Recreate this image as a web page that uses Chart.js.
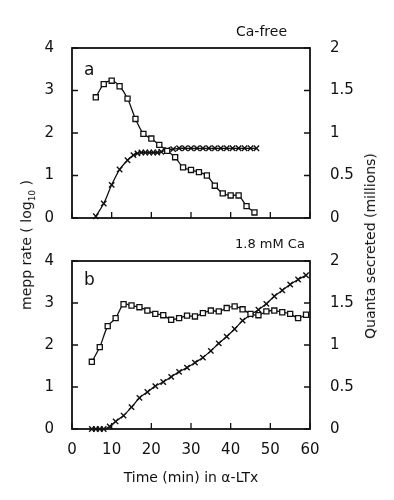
<!DOCTYPE html>
<html>
<head>
<meta charset="utf-8">
<script src="https://cdn.jsdelivr.net/npm/chart.js@4"></script>
<style>
  body { margin: 0; background: #fff; }
  #wrap { position: relative; width: 394px; height: 500px; font-family: "DejaVu Sans", sans-serif; color: #111; }
  canvas { position: absolute; left: 0; }
  .lbl { position: absolute; white-space: nowrap; line-height: 1; }
  .rot { transform: translate(-50%, -50%) rotate(-90deg); }
</style>
</head>
<body>
<div id="wrap">
  <canvas id="chartA" width="394" height="240" style="top:0"></canvas>
  <canvas id="chartB" width="394" height="260" style="top:240px"></canvas>
  <div class="lbl" style="left:236px;top:24px;font-size:14px">Ca-free</div>
  <div class="lbl" style="left:235px;top:237px;font-size:13px">1.8 mM Ca</div>
  <div class="lbl" style="left:84px;top:61px;font-size:17px">a</div>
  <div class="lbl" style="left:84px;top:271px;font-size:17px">b</div>
  <div class="lbl rot" style="left:28px;top:245px;font-size:14px">mepp rate ( log<sub style="font-size:9px">10</sub> )</div>
  <div class="lbl rot" style="left:370px;top:246px;font-size:14px">Quanta secreted (millions)</div>
</div>
<script>
// panel a: Ca-free
const timeA_rate = [6, 8, 10, 12, 14, 16, 18, 20, 22, 24, 26, 28, 30, 32, 34, 36, 38, 40, 42, 44, 46];
const rateA = [2.84, 3.15, 3.23, 3.10, 2.81, 2.33, 1.98, 1.87, 1.72, 1.58, 1.43, 1.19, 1.13, 1.08, 1.00, 0.76, 0.58, 0.53, 0.53, 0.28, 0.13];
const timeA_quanta = [6, 8, 10, 12, 14, 15.5, 16.5, 17.5, 18.5, 19.5, 20.5, 21.5, 22.5, 24, 25.5, 27, 28.5, 30, 31.5, 33, 34.5, 36, 37.5, 39, 40.5, 42, 43.5, 45, 46.5];
const quantaA = [0.02, 0.17, 0.39, 0.57, 0.68, 0.74, 0.76, 0.77, 0.77, 0.77, 0.77, 0.77, 0.78, 0.80, 0.81, 0.82, 0.82, 0.82, 0.82, 0.82, 0.82, 0.82, 0.82, 0.82, 0.82, 0.82, 0.82, 0.82, 0.82];

// panel b: 1.8 mM Ca
const timeB_rate = [5, 7, 9, 11, 13, 15, 17, 19, 21, 23, 25, 27, 29, 31, 33, 35, 37, 39, 41, 43, 45, 47, 49, 51, 53, 55, 57, 59];
const rateB = [1.60, 1.95, 2.45, 2.64, 2.97, 2.94, 2.90, 2.82, 2.74, 2.71, 2.60, 2.64, 2.70, 2.68, 2.76, 2.82, 2.80, 2.88, 2.92, 2.85, 2.74, 2.71, 2.80, 2.82, 2.78, 2.74, 2.64, 2.72];
const timeB_quanta = [5, 6, 7, 8, 9.5, 11, 13, 15, 17, 19, 21, 23, 25, 27, 29, 31, 33, 35, 37, 39, 41, 43, 45, 47, 49, 51, 53, 55, 57, 59];
const quantaB = [0, 0, 0, 0, 0.03, 0.09, 0.16, 0.26, 0.37, 0.44, 0.51, 0.56, 0.62, 0.68, 0.73, 0.79, 0.85, 0.93, 1.02, 1.10, 1.19, 1.29, 1.36, 1.42, 1.49, 1.58, 1.65, 1.72, 1.78, 1.83];

const xTicks = [0, 10, 20, 30, 40, 50, 60];
const rateTicks = [0, 1, 2, 3, 4];
const quantaTicks = [0, 0.5, 1, 1.5, 2];

const INK = "#111";
const FONT = { family: "DejaVu Sans", size: 15 };

const toPoints = (xs, ys) => xs.map((x, i) => ({ x, y: ys[i] }));
const plain = (v) => `${v}`;

// box around the plot with short inward tick marks
const frameTicks = {
  id: "frameTicks",
  afterDraw(chart) {
    const { ctx, chartArea: a, scales } = chart;
    const len = 6;
    ctx.save();
    ctx.strokeStyle = INK;
    ctx.lineWidth = 1.3;
    ctx.beginPath();
    scales.x.ticks.forEach((t) => {
      const px = scales.x.getPixelForValue(t.value);
      ctx.moveTo(px, a.bottom);
      ctx.lineTo(px, a.bottom - len);
    });
    scales.y.ticks.forEach((t) => {
      const py = scales.y.getPixelForValue(t.value);
      ctx.moveTo(a.left, py);
      ctx.lineTo(a.left + len, py);
    });
    scales.y2.ticks.forEach((t) => {
      const py = scales.y2.getPixelForValue(t.value);
      ctx.moveTo(a.right, py);
      ctx.lineTo(a.right - len, py);
    });
    ctx.stroke();
    ctx.lineWidth = 1.8;
    ctx.strokeRect(a.left, a.top, a.right - a.left, a.bottom - a.top);
    ctx.restore();
  },
};

function makeChart(canvas, rate, quanta, opts) {
  const { padTop, xHeight, showX } = opts;
  return new Chart(canvas, {
    type: "line",
    data: {
      datasets: [
        {
          data: rate,
          yAxisID: "y",
          borderColor: INK,
          borderWidth: 1.3,
          tension: 0.3,
          pointStyle: "rect",
          pointRadius: 3.6,
          pointBackgroundColor: "#fff",
          pointBorderColor: INK,
          pointBorderWidth: 1.3,
          clip: false,
        },
        {
          data: quanta,
          yAxisID: "y2",
          borderColor: INK,
          borderWidth: 1.3,
          tension: 0.3,
          pointStyle: "crossRot",
          pointRadius: 3.8,
          pointBorderColor: INK,
          pointBorderWidth: 1.4,
          clip: false,
        },
      ],
    },
    options: {
      responsive: false,
      animation: false,
      events: [],
      layout: { padding: { top: padTop, left: 0, right: 0, bottom: 0 } },
      plugins: { legend: { display: false }, tooltip: { enabled: false } },
      scales: {
        x: {
          type: "linear",
          min: 0,
          max: 60,
          afterBuildTicks: (s) => { s.ticks = xTicks.map((v) => ({ value: v })); },
          afterFit: (s) => { s.height = xHeight; },
          grid: { display: false },
          border: { display: false },
          ticks: { display: showX, color: INK, font: FONT, padding: 4, callback: plain },
          title: {
            display: showX,
            text: "Time (min) in α-LTx",
            color: INK,
            font: { family: "DejaVu Sans", size: 14 },
            padding: { top: 0, bottom: 13 },
          },
        },
        y: {
          position: "left",
          min: 0,
          max: 4,
          afterBuildTicks: (s) => { s.ticks = rateTicks.map((v) => ({ value: v })); },
          afterFit: (s) => { s.width = 72; },
          grid: { display: false },
          border: { display: false },
          ticks: { color: INK, font: FONT, padding: 10, callback: plain },
        },
        y2: {
          position: "right",
          min: 0,
          max: 2,
          afterBuildTicks: (s) => { s.ticks = quantaTicks.map((v) => ({ value: v })); },
          afterFit: (s) => { s.width = 84; },
          grid: { display: false },
          border: { display: false },
          ticks: { color: INK, font: FONT, padding: 12, callback: plain },
        },
      },
    },
    plugins: [frameTicks],
  });
}

makeChart(
  document.getElementById("chartA"),
  toPoints(timeA_rate, rateA),
  toPoints(timeA_quanta, quantaA),
  { padTop: 48, xHeight: 22, showX: false }
);

makeChart(
  document.getElementById("chartB"),
  toPoints(timeB_rate, rateB),
  toPoints(timeB_quanta, quantaB),
  { padTop: 18, xHeight: 71, showX: true }
);
</script>
</body>
</html>
